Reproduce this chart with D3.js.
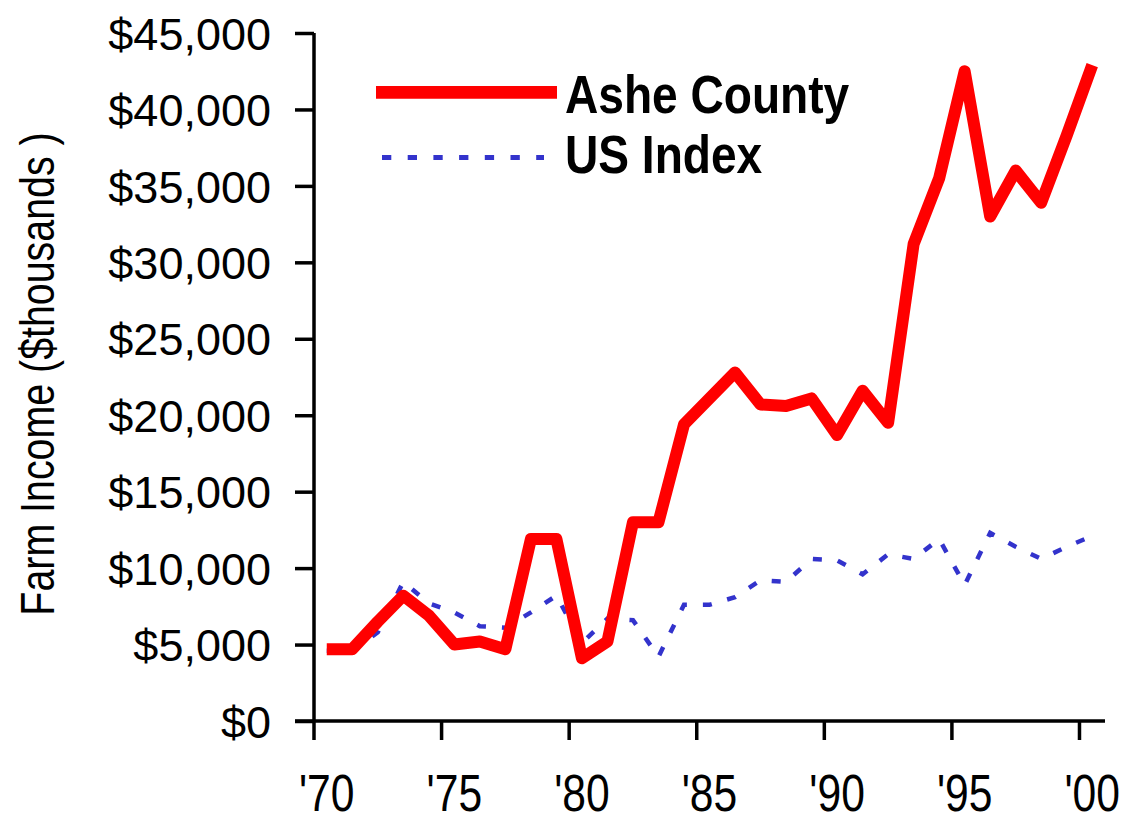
<!DOCTYPE html>
<html>
<head>
<meta charset="utf-8">
<script src="https://cdn.jsdelivr.net/npm/d3@7"></script>
<style>
  body { margin: 0; background: #fff; }
  text { font-family: 'Liberation Sans', Arial, sans-serif; }
</style>
</head>
<body>
<svg id="chart"></svg>
<script>
'use strict';

var years = d3.range(1970, 2001);
var asheCounty = [4700, 4700, 6500, 8200, 6900, 5000, 5200, 4700, 11900, 11900,
  4100, 5200, 13000, 13000, 19400, 21100, 22800, 20700, 20600, 21100,
  18700, 21600, 19500, 31200, 35500, 42500, 33000, 36000, 33900, 38300, 42900];
var usIndex = [4600, 4600, 5800, 9100, 7700, 7100, 6200, 6100, 7100, 8200,
  5100, 6700, 6600, 4200, 7600, 7600, 8100, 9200, 9100, 10600,
  10500, 9600, 10900, 10600, 11900, 8900, 12300, 11400, 10600, 11400, 12100];
var yTicks = [0, 5000, 10000, 15000, 20000, 25000, 30000, 35000, 40000, 45000];
var xTickYears = [1970, 1975, 1980, 1985, 1990, 1995, 2000];
var seriesNames = ['Ashe County', 'US Index'];

var width = 1125;
var height = 822;
var red = '#ff0000';
var blue = '#3333cc';
// no narrow face is installed, so squeeze the regular one
var narrow = 'scale(0.82,1)';

var svg = d3.select('#chart')
  .attr('width', width)
  .attr('height', height);

// categories fill the plot, points sit in the middle of each one
var x = d3.scaleBand().domain(years).range([314, 1105]).paddingInner(0).paddingOuter(0);
var y = d3.scaleLinear().domain([0, 45000]).range([721, 33]);
var cx = function (yr) { return x(yr) + x.bandwidth() / 2; };

// y axis
var yAxis = d3.axisLeft(y)
  .tickValues(yTicks)
  .tickSize(19)
  .tickPadding(24)
  .tickFormat(function (d) { return '$' + d3.format(',')(d); });

var yAxisEl = svg.append('g')
  .attr('transform', 'translate(314,0)')
  .call(yAxis);
yAxisEl.select('.domain').remove();
yAxisEl.selectAll('line').attr('stroke', '#000').attr('stroke-width', 3.5);
yAxisEl.selectAll('text')
  .attr('font-family', 'Liberation Sans, Arial, sans-serif')
  .attr('font-size', 45)
  .attr('fill', '#000')
  .attr('dy', '0.36em');

// x axis: ticks at the left edge of every fifth year, labels centered on the year
var xAxisEl = svg.append('g').attr('class', 'x axis');
xAxisEl.selectAll('line.tick')
  .data(xTickYears)
  .enter()
  .append('line')
  .attr('x1', function (d) { return x(d); })
  .attr('x2', function (d) { return x(d); })
  .attr('y1', 721)
  .attr('y2', 740)
  .attr('stroke', '#000')
  .attr('stroke-width', 3.5);
xAxisEl.selectAll('text')
  .data(xTickYears)
  .enter()
  .append('text')
  .attr('font-size', 52)
  .attr('text-anchor', 'middle')
  .attr('transform', function (d) { return 'translate(' + [cx(d), 811] + ') ' + narrow; })
  .text(function (d) { return '\'' + String(d).slice(2); });

// axis lines
svg.append('line')
  .attr('x1', 314).attr('x2', 314)
  .attr('y1', y(45000)).attr('y2', 721)
  .attr('stroke', '#000').attr('stroke-width', 3.5);
svg.append('line')
  .attr('x1', 295).attr('x2', 1105)
  .attr('y1', 721).attr('y2', 721)
  .attr('stroke', '#000').attr('stroke-width', 3.5);

svg.append('text')
  .attr('font-size', 48)
  .attr('text-anchor', 'middle')
  .attr('transform', 'translate(' + [54, 374] + ') rotate(-90) ' + narrow)
  .text('Farm Income ($thousands )');

var line = d3.line()
  .x(function (d) { return cx(d.year); })
  .y(function (d) { return y(d.value); });

function toPoints(values) {
  return years.map(function (yr, i) { return { year: yr, value: values[i] }; });
}

svg.append('path')
  .datum(toPoints(usIndex))
  .attr('d', line)
  .attr('fill', 'none')
  .attr('stroke', blue)
  .attr('stroke-width', 4.5)
  .attr('stroke-dasharray', '9,16');

svg.append('path')
  .datum(toPoints(asheCounty))
  .attr('d', line)
  .attr('fill', 'none')
  .attr('stroke', red)
  .attr('stroke-width', 12)
  .attr('stroke-linejoin', 'round');

// legend
var legend = svg.append('g').attr('class', 'legend');
legend.append('line')
  .attr('x1', 376).attr('x2', 557)
  .attr('y1', 92.3).attr('y2', 92.3)
  .attr('stroke', red).attr('stroke-width', 12.7);
legend.append('line')
  .attr('x1', 382).attr('x2', 544)
  .attr('y1', 157.5).attr('y2', 157.5)
  .attr('stroke', blue).attr('stroke-width', 5)
  .attr('stroke-dasharray', '9.3,16.4');
legend.selectAll('text')
  .data(seriesNames)
  .enter()
  .append('text')
  .attr('font-size', 53)
  .attr('font-weight', 'bold')
  .attr('transform', function (d, i) {
    return 'translate(' + [565, i === 0 ? 113 : 172.5] + ') scale(0.87,1)';
  })
  .text(function (d) { return d; });
</script>
</body>
</html>
